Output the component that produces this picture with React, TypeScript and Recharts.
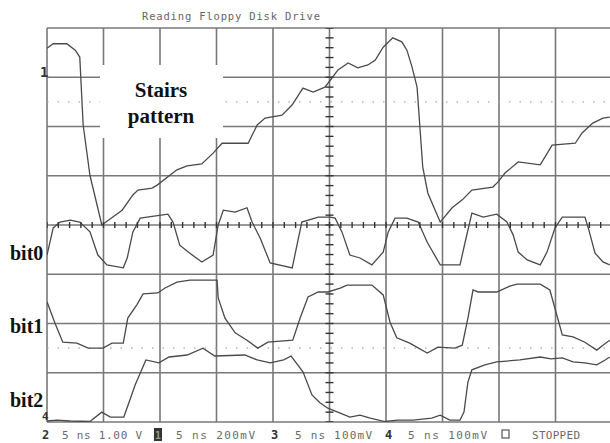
import React from "react";
import {
  ComposedChart,
  Line,
  Scatter,
  XAxis,
  YAxis,
  ReferenceLine,
} from "recharts";

// scope screen: 10 horizontal divisions, 8 vertical divisions
const gridX = [0, 1, 2, 3, 4, 5, 6, 7, 8, 9, 10];
const gridY = [0, 1, 2, 3, 4, 5, 6, 7, 8];
const refDotted = [6.5, 1.5];

// channel 1 - stairs pattern (x in div, y in div)
const stairsX = [0, 0.11, 0.35, 0.5, 0.58, 0.64, 0.76, 0.97, 1.33, 1.52, 1.61, 1.86, 1.95, 2.3, 2.48, 2.74, 2.94, 3.1, 3.56, 3.72, 3.86, 4.16, 4.34, 4.53, 4.71, 4.92, 5.04, 5.15, 5.33, 5.5, 5.68, 5.81, 5.95, 6.12, 6.28, 6.37, 6.46, 6.55, 6.6, 6.65, 6.74, 6.87, 6.96, 7.17, 7.35, 7.52, 7.89, 7.98, 8.11, 8.34, 8.73, 8.94, 9.35, 9.47, 9.66, 9.84, 9.96];
const stairsY = [7.59, 7.68, 7.68, 7.55, 7.41, 6.03, 5.01, 4.0, 4.3, 4.61, 4.71, 4.75, 4.81, 5.12, 5.2, 5.24, 5.46, 5.66, 5.66, 6.03, 6.17, 6.23, 6.44, 6.78, 6.7, 6.8, 6.98, 7.15, 7.29, 7.19, 7.25, 7.35, 7.61, 7.8, 7.72, 7.55, 7.21, 6.8, 5.99, 5.18, 4.65, 4.3, 4.06, 4.35, 4.51, 4.71, 4.77, 4.87, 5.06, 5.28, 5.22, 5.62, 5.66, 5.87, 6.07, 6.17, 6.19];

const bit0X = [0, 0.11, 0.23, 0.41, 0.58, 0.76, 0.9, 1.06, 1.35, 1.42, 1.52, 1.65, 1.77, 2.14, 2.23, 2.35, 2.5, 2.74, 2.94, 3.03, 3.12, 3.33, 3.54, 3.63, 3.77, 3.95, 4.34, 4.51, 4.8, 5.01, 5.1, 5.22, 5.36, 5.54, 5.75, 5.95, 6.04, 6.16, 6.37, 6.57, 6.73, 6.96, 7.31, 7.4, 7.52, 7.72, 7.96, 8.14, 8.25, 8.34, 8.5, 8.73, 8.85, 8.99, 9.12, 9.52, 9.58, 9.7, 9.84, 9.96];
const bit0Y = [3.39, 3.94, 4.06, 4.1, 4.06, 3.86, 3.39, 3.19, 3.13, 3.33, 3.86, 4.14, 4.16, 4.22, 4.06, 3.59, 3.45, 3.25, 3.39, 4.0, 4.3, 4.26, 4.35, 4.06, 3.74, 3.23, 3.13, 4.06, 4.16, 4.16, 4.14, 3.86, 3.39, 3.33, 3.19, 3.45, 3.86, 4.14, 4.14, 4.06, 3.65, 3.19, 3.19, 3.65, 4.24, 4.16, 4.22, 4.06, 3.8, 3.45, 3.29, 3.19, 3.45, 3.94, 4.16, 4.16, 3.94, 3.43, 3.25, 3.19];

const bit1X = [0, 0.14, 0.28, 0.53, 0.73, 0.99, 1.15, 1.35, 1.43, 1.59, 1.7, 1.96, 2.09, 2.3, 2.53, 3.01, 3.03, 3.15, 3.33, 3.54, 3.73, 3.91, 4.35, 4.48, 4.62, 4.8, 4.97, 5.19, 5.31, 5.75, 5.95, 6.07, 6.19, 6.42, 6.73, 6.92, 7.22, 7.35, 7.45, 7.54, 7.63, 7.96, 8.19, 8.32, 8.73, 8.9, 8.99, 9.12, 9.31, 9.52, 9.73, 9.84, 9.96];
const bit1Y = [2.44, 2.01, 1.62, 1.6, 1.5, 1.5, 1.6, 1.6, 2.11, 2.38, 2.6, 2.62, 2.72, 2.84, 2.88, 2.88, 2.52, 2.11, 1.81, 1.66, 1.5, 1.62, 1.66, 2.11, 2.54, 2.64, 2.64, 2.72, 2.78, 2.78, 2.58, 2.03, 1.71, 1.6, 1.4, 1.52, 1.5, 1.56, 2.11, 2.68, 2.64, 2.64, 2.76, 2.8, 2.8, 2.68, 2.31, 1.77, 1.73, 1.62, 1.46, 1.56, 1.66];

const bit2X = [0, 0.18, 0.41, 0.76, 0.97, 1.12, 1.36, 1.56, 1.75, 1.98, 2.16, 2.48, 2.76, 2.97, 3.5, 3.72, 3.95, 4.19, 4.32, 4.53, 4.69, 4.83, 4.97, 5.19, 5.36, 5.54, 5.72, 5.98, 6.21, 6.48, 6.81, 6.96, 7.13, 7.31, 7.38, 7.45, 7.52, 7.75, 7.96, 8.37, 8.73, 8.92, 9.12, 9.31, 9.52, 9.73, 9.88, 9.96];
const bit2Y = [0.02, 0.04, 0.02, 0.01, 0.2, 0.1, 0.1, 0.75, 1.26, 1.2, 1.32, 1.36, 1.5, 1.34, 1.36, 1.26, 1.2, 1.26, 1.34, 1.02, 0.55, 0.39, 0.28, 0.18, 0.1, 0.14, 0.08, 0.01, 0.04, 0.04, 0.08, 0.14, 0.04, 0.04, 0.2, 0.81, 1.06, 1.16, 1.22, 1.26, 1.32, 1.28, 1.3, 1.22, 1.2, 1.16, 1.26, 1.32];

const minorStep = [0, 1, 2, 3, 4, 5, 6, 7, 8, 9, 10, 11, 12, 13, 14, 15, 16, 17, 18, 19, 20, 21, 22, 23, 24, 25, 26, 27, 28, 29, 30, 31, 32, 33, 34, 35, 36, 37, 38, 39, 40, 41, 42, 43, 44, 45, 46, 47, 48, 49, 50];

const toPts = (xs: number[], ys: number[]) => xs.map((x, i) => ({ x, y: ys[i] }));

const stairs = toPts(stairsX, stairsY);
const bit0 = toPts(bit0X, bit0Y);
const bit1 = toPts(bit1X, bit1Y);
const bit2 = toPts(bit2X, bit2Y);
const hTicks = minorStep.map((k) => ({ x: k / 5, y: 4 }));
const vTicks = minorStep.filter((k) => k <= 40).map((k) => ({ x: 5, y: k / 5 }));

const GRID = "#787878";
const TRACE = "#4a4a4a";
const MONO = "'DejaVu Sans Mono', monospace";
const SERIF = "'Liberation Serif', 'Times New Roman', serif";

const HTick = (p: any) => (
  <line x1={p.cx} x2={p.cx} y1={p.cy - 3} y2={p.cy + 3} stroke="#333" strokeWidth={1.4} />
);
const VTick = (p: any) => (
  <line x1={p.cx - 4} x2={p.cx + 4} y1={p.cy} y2={p.cy} stroke="#333" strokeWidth={1.4} />
);

const statusText = { fontFamily: MONO, fontSize: 11, fill: "#6a6a6a" };
const marker = { fontFamily: MONO, fontSize: 12, fontWeight: 700, fill: "#333" };
const bitLabel = { fontFamily: SERIF, fontSize: 20, fontWeight: 700, fill: "#111" };

export default function App() {
  return (
    <div style={{ position: "absolute", left: 0, top: 0, width: 610, height: 443, overflow: "hidden", background: "#fff" }}>
      <ComposedChart
        width={620}
        height={443}
        margin={{ top: 28, right: 8, bottom: 21, left: 47 }}
      >
        <XAxis type="number" dataKey="x" domain={[0, 10]} hide allowDataOverflow />
        <YAxis type="number" dataKey="y" domain={[0, 8]} hide allowDataOverflow />
        {gridX.map((v) => (
          <ReferenceLine key={"gx" + v} x={v} stroke={GRID} strokeWidth={1.6} />
        ))}
        {gridY.map((v) => (
          <ReferenceLine key={"gy" + v} y={v} stroke={GRID} strokeWidth={1.6} />
        ))}
        {refDotted.map((v) => (
          <ReferenceLine key={"d" + v} y={v} stroke="#a8a8a8" strokeWidth={1.2} strokeDasharray="1.5 9" />
        ))}
        <Scatter data={hTicks} shape={HTick} isAnimationActive={false} />
        <Scatter data={vTicks} shape={VTick} isAnimationActive={false} />
        <Line data={stairs} dataKey="y" type="linear" stroke={TRACE} strokeWidth={1.3} dot={false} isAnimationActive={false} />
        <Line data={bit0} dataKey="y" type="linear" stroke={TRACE} strokeWidth={1.3} dot={false} isAnimationActive={false} />
        <Line data={bit1} dataKey="y" type="linear" stroke={TRACE} strokeWidth={1.3} dot={false} isAnimationActive={false} />
        <Line data={bit2} dataKey="y" type="linear" stroke={TRACE} strokeWidth={1.3} dot={false} isAnimationActive={false} />
      </ComposedChart>
      <svg width={610} height={443} style={{ position: "absolute", left: 0, top: 0, pointerEvents: "none" }}>
        <text x={142} y={20} textLength={178} lengthAdjust="spacing" style={{ fontFamily: MONO, fontSize: 10.5, fill: "#666" }}>
          Reading Floppy Disk Drive
        </text>
        <rect x={100} y={65} width={123} height={73} fill="#fff" />
        <text x={161} y={97} textAnchor="middle" style={{ fontFamily: SERIF, fontSize: 21, fontWeight: 700, fill: "#111" }}>
          Stairs
        </text>
        <text x={161} y={123} textAnchor="middle" style={{ fontFamily: SERIF, fontSize: 21, fontWeight: 700, fill: "#111" }}>
          pattern
        </text>
        <text x={40} y={77} style={{ ...marker, fontSize: 14 }}>1</text>
        <text x={10} y={260} style={bitLabel}>bit0</text>
        <text x={10} y={333} style={bitLabel}>bit1</text>
        <text x={10} y={407} style={bitLabel}>bit2</text>
        <text x={42} y={420} style={{ ...marker, fontSize: 11 }}>4</text>
        <text x={42} y={439} style={marker}>2</text>
        <text x={62} y={439} textLength={80} lengthAdjust="spacing" style={statusText}>5 ns 1.00 V</text>
        <rect x={154} y={428} width={8} height={13} fill="#333" />
        <text x={155} y={439} style={{ ...marker, fill: "#999", fontSize: 10 }}>1</text>
        <text x={176} y={439} textLength={79} lengthAdjust="spacing" style={statusText}>5 ns 200mV</text>
        <text x={271} y={439} style={marker}>3</text>
        <text x={295} y={439} textLength={77} lengthAdjust="spacing" style={statusText}>5 ns 100mV</text>
        <text x={385} y={439} style={marker}>4</text>
        <text x={408} y={439} textLength={79} lengthAdjust="spacing" style={statusText}>5 ns 100mV</text>
        <rect x={502} y={430} width={7} height={8} fill="none" stroke="#555" strokeWidth={1.2} />
        <text x={532} y={439} textLength={48} lengthAdjust="spacing" style={statusText}>STOPPED</text>
      </svg>
    </div>
  );
}
